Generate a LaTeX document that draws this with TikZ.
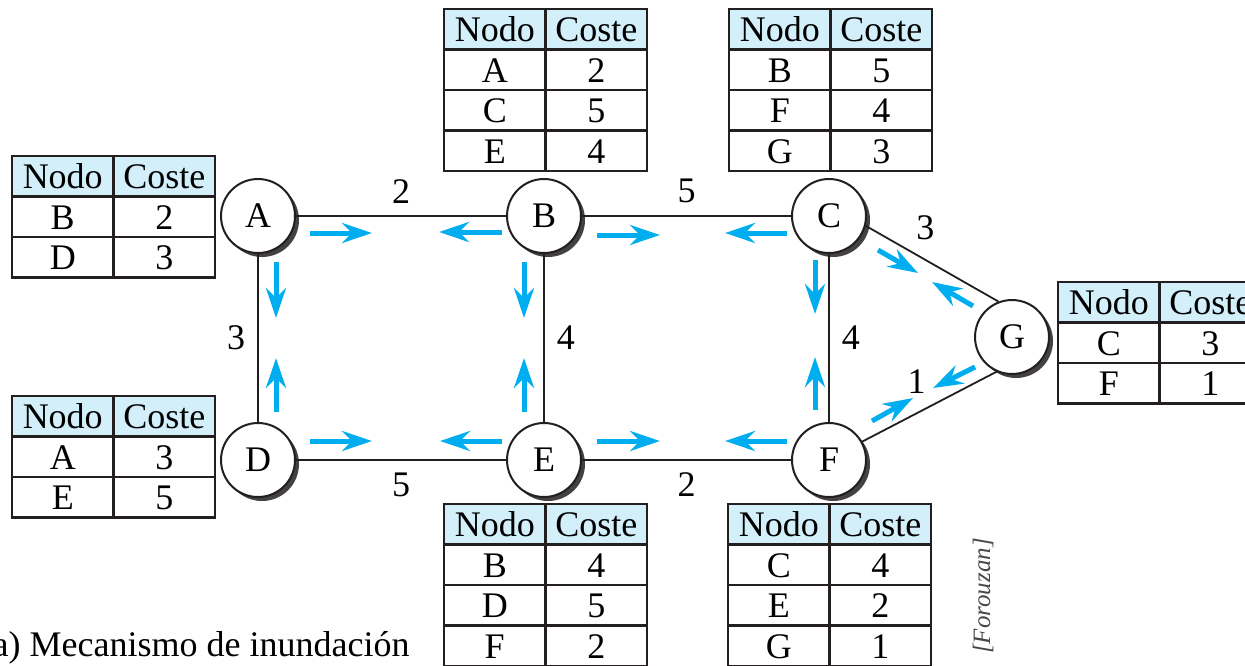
\documentclass[tikz,border=0pt]{standalone}
\usepackage{fontspec}
\setmainfont{Liberation Serif}
\usetikzlibrary{
  arrows.meta,
  positioning,
  calc,
  shadows
}
\definecolor{FlechaCian}  {RGB}{0,174,239}
\definecolor{CabeceraCian}{RGB}{210,239,250}
\definecolor{TrazoOscuro} {RGB}{35,31,32}

% tabla de costes: nombre, esquina superior izquierda, filas nodo/coste
\newcommand{\tabla}[4]{%
  \node[celda, cabecera, anchor=north west] (#1-n0) at (#2,#3) {Nodo};
  \node[celda, cabecera, right=0pt of #1-n0] (#1-c0) {Coste};
  \foreach \nd/\cs [count=\i, remember=\i as \j (initially 0)] in {#4} {
    \node[celda, below=0pt of #1-n\j] (#1-n\i) {\nd};
    \node[celda, right=0pt of #1-n\i] (#1-c\i) {\cs};
  }%
}

\begin{document}
\begin{tikzpicture}[
  x=0.5pt, y=-0.5pt,
  font=\fontsize{18}{21}\selectfont,
  nodo/.style={circle, draw=TrazoOscuro, line width=1pt, fill=white,
               minimum size=37pt, inner sep=0pt,
               drop shadow={shadow xshift=2pt, shadow yshift=-2pt,
                            fill=TrazoOscuro!85, opacity=1}},
  arista/.style={draw=TrazoOscuro, line width=0.9pt},
  peso/.style={inner sep=6pt},
  flecha/.style={-{Stealth[length=15pt, width=10pt, inset=5pt]},
                 line width=2.5pt, draw=FlechaCian},
  celda/.style={rectangle, draw=TrazoOscuro, line width=1.3pt,
                minimum width=50.75pt, minimum height=20.25pt,
                inner sep=0pt, outer sep=0pt,
                text height=12.5pt, text depth=0pt},
  cabecera/.style={fill=CabeceraCian},
  fuente/.style={font=\fontsize{12.5}{14}\selectfont\itshape,
                 text=black!72, rotate=90}
]
\useasboundingbox (0,0) rectangle (1245,665);
\clip (0,0) rectangle (1245,665);

% nodos
\node[nodo] (A) at (258,216)  {A};
\node[nodo] (B) at (544,216)  {B};
\node[nodo] (C) at (829,216)  {C};
\node[nodo] (D) at (258,460)  {D};
\node[nodo] (E) at (544,460)  {E};
\node[nodo] (F) at (829,460)  {F};
\node[nodo] (G) at (1012,337) {G};

% aristas con su coste
\draw[arista] (A) -- node[peso, above]{2} (B);
\draw[arista] (B) -- node[peso, above]{5} (C);
\draw[arista] (A) -- node[peso, left]{3}  (D);
\draw[arista] (B) -- node[peso, right]{4} (E);
\draw[arista] (C) -- node[peso, right]{4} (F);
\draw[arista] (D) -- node[peso, below]{5} (E);
\draw[arista] (E) -- node[peso, below]{2} (F);
\draw[arista] (C.-15) -- node[peso, pos=.36, above, xshift=6pt]{3} (G.111);
\draw[arista] (F.29)  -- node[peso, pos=.51, above, xshift=-7pt]{1} (G.246);

% inundacion
\draw[flecha] ($(A)+(52,17)$)   -- +(62,0);
\draw[flecha] ($(B)+(-42,16)$)  -- +(-63,0);
\draw[flecha] ($(B)+(53,19)$)   -- +(63,0);
\draw[flecha] ($(C)+(-42,17)$)  -- +(-62,0);
\draw[flecha] ($(A)+(18,46)$)   -- +(0,56);
\draw[flecha] ($(D)+(18,-48)$)  -- +(0,-54);
\draw[flecha] ($(B)+(-20,46)$)  -- +(0,56);
\draw[flecha] ($(E)+(-20,-48)$) -- +(0,-54);
\draw[flecha] ($(C)+(-14,44)$)  -- +(0,54);
\draw[flecha] ($(F)+(-14,-50)$) -- +(0,-53);
\draw[flecha] ($(D)+(52,-19)$)  -- +(62,0);
\draw[flecha] ($(E)+(-42,-19)$) -- +(-62,0);
\draw[flecha] ($(E)+(53,-19)$)  -- +(63,0);
\draw[flecha] ($(F)+(-42,-19)$) -- +(-62,0);
\draw[flecha] ($(C)+(49,34)$)   -- +(40,23);
\draw[flecha] ($(G)+(-39,-31)$) -- +(-41,-24);
\draw[flecha] ($(G)+(-37,30)$)  -- +(-42,21);
\draw[flecha] ($(F)+(43,-39)$)  -- +(41,-23);

% tablas
\tabla{tA}{12}{156}{B/2, D/3}
\tabla{tB}{444}{9}{A/2, C/5, E/4}
\tabla{tC}{729}{9}{B/5, F/4, G/3}
\tabla{tD}{12}{396}{A/3, E/5}
\tabla{tE}{444}{504}{B/4, D/5, F/2}
\tabla{tF}{728}{504}{C/4, E/2, G/1}
\tabla{tG}{1058}{282}{C/3, F/1}

\node[anchor=base east, inner sep=0pt] (pie) at (410,656)
     {a) Mecanismo de inundación};
\node[fuente] (autor) at (983,596) {[Forouzan]};

\end{tikzpicture}
\end{document}
